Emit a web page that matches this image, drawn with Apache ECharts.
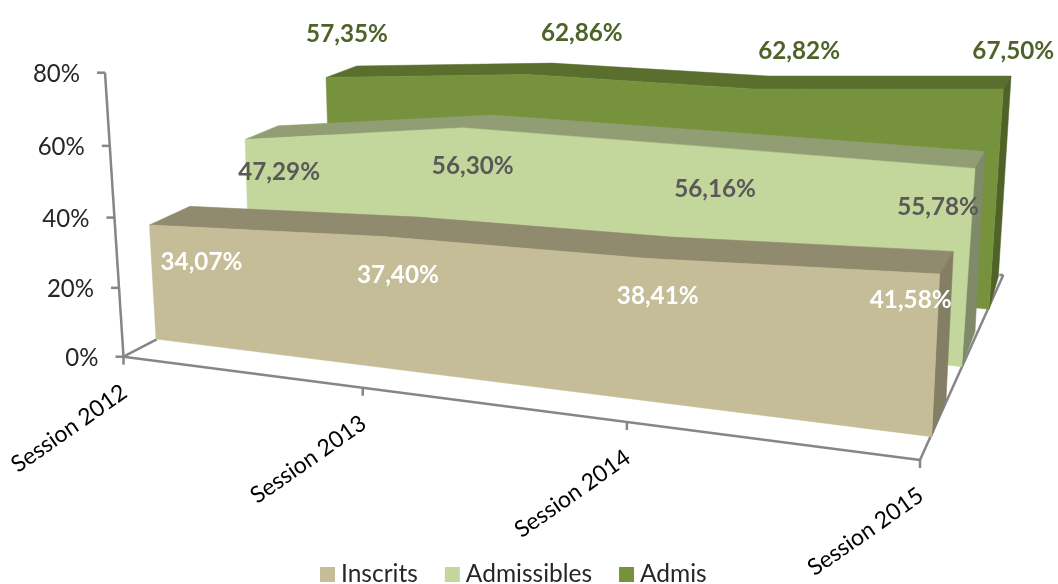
<!DOCTYPE html>
<html><head><meta charset="utf-8">
<style>html,body{margin:0;padding:0;background:#fff}#c{width:1058px;height:584px}</style>
<script src="https://cdn.jsdelivr.net/npm/echarts@6/dist/echarts.min.js"></script>
</head><body><div id="c"></div>
<script>
const categories = ['Session 2012','Session 2013','Session 2014','Session 2015'];
const yTicks = [0,20,40,60,80];
const inscrits = [34.07,37.40,38.41,41.58];
const admissibles = [47.29,56.30,56.16,55.78];
const admis = [57.35,62.86,62.82,67.50];

// Perspective layout: each quad is [left-bottom, right-bottom, right-top(80%), left-top(80%)]
const FONT='Lato, Carlito, sans-serif';
const layers = {
  Inscrits:{front:[[156,339],[931.7,436.7],[947.4,117.1],[140.3,65.5]],back:[[195.5,312],[946,400],[960.3,108.6],[182.2,59]],
    colors:['#c4bd97','#908a6f','#837e64'],labelColor:'#ffffff',off:[[52,37],[14,38],[12,38],[-29,26]]},
  Admissibles:{front:[[250,284],[961.7,366.7],[981.1,78.9],[241.6,36]],back:[[282.7,259.6],[975,331.7],[989.5,70.7],[275,30.6]],
    colors:['#c3d69b','#919e74','#7f8b68'],labelColor:'#595959',off:[[34,32],[10,38],[10,42],[-37,38]]},
  Admis:{front:[[331,238],[989,309.3],[1006,46.7],[324,12]],back:[[361,212.4],[998.3,277],[1013.5,37.5],[355,6.4]],
    colors:['#76923c','#5a6e2e','#4f6228'],labelColor:'#4f6228',off:[[21,-44],[54,-42],[47,-38],[10,-38]]}
};
const frameQuad=[[123.5,356.7],[920,460],[937,132],[105,72.7]];
const floorBack=[[156.7,339.3],[1003.3,275]];

function homography(q){
  const [x0,y0]=q[0],[x1,y1]=q[1],[x2,y2]=q[2],[x3,y3]=q[3];
  const dx1=x1-x2,dx2=x3-x2,sx=x0-x1+x2-x3,dy1=y1-y2,dy2=y3-y2,sy=y0-y1+y2-y3;
  const den=dx1*dy2-dx2*dy1,g=(sx*dy2-dx2*sy)/den,h=(dx1*sy-sx*dy1)/den;
  const a=x1-x0+g*x1,b=x3-x0+h*x3,d=y1-y0+g*y1,e=y3-y0+h*y3;
  return (u,v)=>{const w=g*u+h*v+1;return [(a*u+b*v+x0)/w,(d*u+e*v+y0)/w];};
}
// data -> axis scales -> unit square -> perspective plane
function unit(api,params,i,v){
  const p=api.coord([i,v]),c=params.coordSys;
  return [(p[0]-c.x)/c.width,1-(p[1]-c.y)/c.height];
}
function layerItem(name,values){
  const L=layers[name],F=homography(L.front),B=homography(L.back);
  return function(params,api){
    if(params.dataIndex!==0) return null;
    const us=values.map((v,i)=>unit(api,params,i,v));
    const ft=us.map(p=>F(p[0],p[1])),bt=us.map(p=>B(p[0],p[1]));
    const n=values.length-1,ch=[];
    const poly=(pts,fill)=>({type:'polygon',shape:{points:pts},style:{fill,stroke:fill,lineWidth:0.5}});
    ch.push(poly(ft.concat(bt.slice().reverse()),L.colors[1]));
    ch.push(poly([ft[n],bt[n],B(us[n][0],0),F(us[n][0],0)],L.colors[2]));
    ch.push(poly([F(us[0][0],0),F(us[n][0],0)].concat(ft.slice().reverse()),L.colors[0]));
    values.forEach((v,i)=>ch.push({type:'text',x:ft[i][0]+L.off[i][0],y:ft[i][1]+L.off[i][1],z2:10,scaleX:0.97,
      style:{text:v.toFixed(2).replace('.',',')+'%',fill:L.labelColor,font:'bold 25px '+FONT,align:'center',verticalAlign:'middle'}}));
    return {type:'group',children:ch};
  };
}
function frameItem(params,api){
  if(params.dataIndex!==0) return null;
  const G=homography(frameQuad),ch=[];
  const line=(a,b)=>({type:'line',shape:{x1:a[0],y1:a[1],x2:b[0],y2:b[1]},style:{stroke:'#868686',lineWidth:2.5}});
  const o=G(0,0),t=G(0,1),r=G(1,0);
  ch.push(line(o,t),line(o,r),line(r,floorBack[1]),line(o,floorBack[0]));
  ch.push(line(floorBack[1],[floorBack[1][0]-4,floorBack[1][1]]));
  yTicks.forEach(v=>{
    const u=unit(api,params,0,v),p=G(u[0],u[1]);
    ch.push(line(p,[p[0]-8,p[1]]));
    ch.push({type:'text',x:p[0]-25,y:p[1]+1,scaleX:0.96,style:{text:v+'%',fill:'#262626',font:'25px '+FONT,align:'right',verticalAlign:'middle'}});
  });
  categories.forEach((c,i)=>{
    const u=unit(api,params,i,0),p=G(u[0],0);
    ch.push(line(p,[p[0],p[1]+8]));
    ch.push({type:'text',x:p[0]+1,y:p[1]+33,rotation:35*Math.PI/180,
      style:{text:c,fill:'#000',font:'23px '+FONT,align:'right',verticalAlign:'middle'}});
  });
  return {type:'group',children:ch};
}
const chart=echarts.init(document.getElementById('c'),null,{renderer:'canvas'});
const pairs=a=>a.map((v,i)=>[i,v]);
const mk=(name,values)=>({type:'custom',name,coordinateSystem:'cartesian2d',silent:true,clip:false,
  renderItem:layerItem(name,values),data:pairs(values),itemStyle:{color:layers[name].colors[0]},animation:false});
chart.setOption({
  animation:false,backgroundColor:'#fff',
  legend:{data:['Inscrits','Admissibles','Admis'],left:315,top:557,itemWidth:15,itemHeight:15,itemGap:27,icon:'rect',selectedMode:false,
    textStyle:{fontFamily:FONT,fontSize:24.5,color:'#262626',padding:[0,0,0,1]}},
  grid:{left:100,right:100,top:70,bottom:130},
  xAxis:{type:'category',data:categories,boundaryGap:false,show:false},
  yAxis:{type:'value',min:0,max:80,interval:20,show:false},
  series:[
    {type:'custom',name:'frame',coordinateSystem:'cartesian2d',silent:true,clip:false,renderItem:frameItem,data:[[0,0]],animation:false},
    mk('Admis',admis),mk('Admissibles',admissibles),mk('Inscrits',inscrits)
  ]
});
</script></body></html>
